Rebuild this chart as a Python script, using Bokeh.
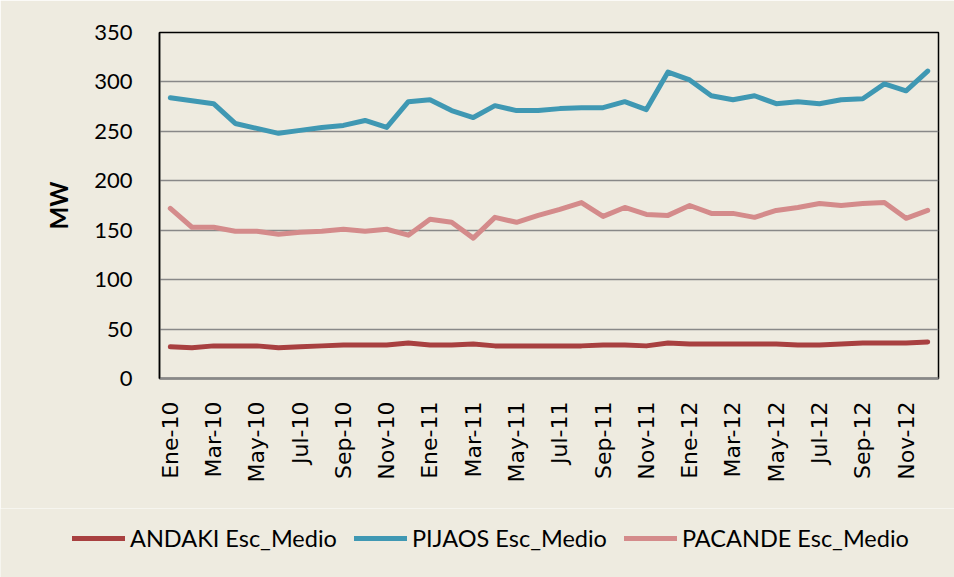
import math
from bokeh.plotting import figure
from bokeh.layouts import column
from bokeh.models import Range1d, FixedTicker, Legend, LegendItem
from bokeh.embed import file_html
from bokeh.resources import INLINE

months = ["Ene-10", "Feb-10", "Mar-10", "Abr-10", "May-10", "Jun-10", "Jul-10", "Ago-10", "Sep-10", "Oct-10", "Nov-10", "Dic-10",
          "Ene-11", "Feb-11", "Mar-11", "Abr-11", "May-11", "Jun-11", "Jul-11", "Ago-11", "Sep-11", "Oct-11", "Nov-11", "Dic-11",
          "Ene-12", "Feb-12", "Mar-12", "Abr-12", "May-12", "Jun-12", "Jul-12", "Ago-12", "Sep-12", "Oct-12", "Nov-12", "Dic-12"]

andaki = [32, 31, 33, 33, 33, 31, 32, 33, 34, 34, 34, 36,
          34, 34, 35, 33, 33, 33, 33, 33, 34, 34, 33, 36,
          35, 35, 35, 35, 35, 34, 34, 35, 36, 36, 36, 37]

pijaos = [284, 281, 278, 258, 253, 248, 251, 254, 256, 261, 254, 280,
          282, 271, 264, 276, 271, 271, 273, 274, 274, 280, 272, 310,
          302, 286, 282, 286, 278, 280, 278, 282, 283, 298, 291, 311]

pacande = [172, 153, 153, 149, 149, 146, 148, 149, 151, 149, 151, 145,
           161, 158, 142, 163, 158, 165, 171, 178, 164, 173, 166, 165,
           175, 167, 167, 163, 170, 173, 177, 175, 177, 178, 162, 170]

series_names = ["ANDAKI Esc_Medio", "PIJAOS Esc_Medio", "PACANDE Esc_Medio"]
series_values = [andaki, pijaos, pacande]
series_colors = ["#A84040", "#3F98B3", "#D48B8B"]

y_ticks = [0, 50, 100, 150, 200, 250, 300, 350]

bg = "#EEEBE0"
x = list(range(len(months)))

# ---- main chart ----
p = figure(width=954, height=508, output_backend="svg", toolbar_location=None,
           x_range=Range1d(-0.5, len(months) - 0.5), y_range=Range1d(0, 350))
p.frame_align = False
p.min_border_left = 159
p.min_border_top = 32
p.min_border_right = 16
p.min_border_bottom = 130
p.background_fill_color = bg
p.border_fill_color = bg
p.outline_line_color = "#000000"
p.outline_line_width = 1.5

p.xgrid.grid_line_color = None
p.ygrid.grid_line_color = "#888888"
p.ygrid.grid_line_width = 1.5

p.yaxis.ticker = FixedTicker(ticks=y_ticks)
p.yaxis.major_label_text_font = "Lato"
p.yaxis.major_label_text_font_size = "22px"
p.yaxis.major_label_text_color = "#000000"
p.yaxis.major_tick_line_color = None
p.yaxis.minor_tick_line_color = None
p.yaxis.axis_line_color = "#000000"
p.yaxis.axis_line_width = 1.5
p.yaxis.major_label_standoff = 21
p.yaxis.axis_label = "MW"
p.yaxis.axis_label_text_font = "Lato"
p.yaxis.axis_label_text_font_style = "bold"
p.yaxis.axis_label_text_font_size = "24px"
p.yaxis.axis_label_text_color = "#000000"
p.yaxis.axis_label_standoff = 18

p.xaxis.ticker = FixedTicker(ticks=x[::2])
p.xaxis.major_label_overrides = {i: months[i] for i in x[::2]}
p.xaxis.major_label_orientation = math.pi / 2
p.xaxis.major_label_text_font = "DejaVu Sans"
p.xaxis.major_label_text_font_size = "22px"
p.xaxis.major_label_text_color = "#000000"
p.xaxis.major_tick_line_color = None
p.xaxis.minor_tick_line_color = None
p.xaxis.axis_line_color = "#888888"
p.xaxis.axis_line_width = 2.5
p.xaxis.major_label_standoff = 17

for vals, col in zip(series_values, series_colors):
    p.line(x, vals, line_color=col, line_width=5, line_join="round", line_cap="round")

# ---- legend strip ----
lg = figure(width=954, height=69, output_backend="svg", toolbar_location=None,
            x_range=Range1d(-0.5, len(months) - 0.5), y_range=Range1d(0, 350))
lg.frame_align = False
lg.min_border = 0
lg.min_border_left = 0
lg.min_border_right = 0
lg.min_border_top = 0
lg.min_border_bottom = 0
lg.axis.visible = False
lg.grid.visible = False
lg.background_fill_color = bg
lg.border_fill_color = bg
lg.outline_line_color = None

items = []
for name, vals, col in zip(series_names, series_values, series_colors):
    r = lg.line(x, vals, line_color=col, line_width=5, line_cap="round", visible=False)
    items.append(LegendItem(label=name, renderers=[r]))

legend = Legend(items=items, orientation="horizontal", location=(72, 25),
                padding=0, margin=0, spacing=17, label_standoff=5,
                glyph_width=53, glyph_height=20,
                label_text_font="Lato", label_text_font_size="23.5px", label_text_color="#000000",
                border_line_color=None, background_fill_alpha=0,
                inactive_fill_alpha=0)
lg.add_layout(legend, "center")

layout = column(p, lg, spacing=0)
open("out.html", "w").write(file_html(layout, INLINE))
